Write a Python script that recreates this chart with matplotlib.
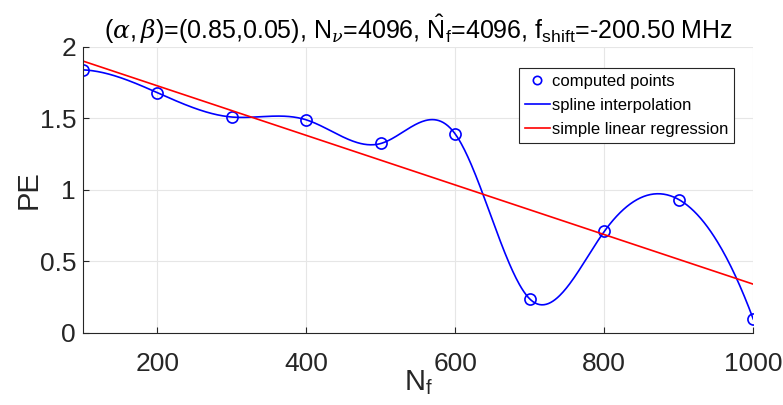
import numpy as np
import matplotlib
matplotlib.use('Agg')
import matplotlib.pyplot as plt

plt.rcParams['font.family'] = ['Liberation Sans', 'DejaVu Sans']
plt.rcParams['mathtext.fontset'] = 'custom'
plt.rcParams['mathtext.rm'] = 'Liberation Sans'
plt.rcParams['mathtext.sf'] = 'Liberation Sans'
plt.rcParams['mathtext.it'] = 'DejaVu Serif:italic'

# data
nf = np.array([100, 200, 300, 400, 500, 600, 700, 800, 900, 1000], dtype=float)
pe = np.array([1.84, 1.68, 1.51, 1.49, 1.325, 1.39, 0.237, 0.71, 0.933, 0.097])
xticks = [200, 400, 600, 800, 1000]
yticks = [0, 0.5, 1, 1.5, 2]
yticklabels = ['0', '0.5', '1', '1.5', '2']


def notaknot_spline(x, y, xs):
    # piecewise cubic a + b t + c t^2 + d t^3, not-a-knot ends (like MATLAB spline)
    n = len(x) - 1
    h = np.diff(x)
    A = np.zeros((4 * n, 4 * n))
    r = np.zeros(4 * n)
    row = 0
    for i in range(n):
        A[row, 4 * i] = 1; r[row] = y[i]; row += 1
        A[row, 4 * i:4 * i + 4] = [1, h[i], h[i] ** 2, h[i] ** 3]; r[row] = y[i + 1]; row += 1
    for i in range(n - 1):
        A[row, 4 * i:4 * i + 4] = [0, 1, 2 * h[i], 3 * h[i] ** 2]
        A[row, 4 * (i + 1) + 1] = -1; row += 1
        A[row, 4 * i:4 * i + 4] = [0, 0, 2, 6 * h[i]]
        A[row, 4 * (i + 1) + 2] = -2; row += 1
    A[row, 3] = 1; A[row, 7] = -1; row += 1
    A[row, 4 * (n - 2) + 3] = 1; A[row, 4 * (n - 1) + 3] = -1; row += 1
    c = np.linalg.solve(A, r).reshape(n, 4)
    idx = np.clip(np.searchsorted(x, xs, side='right') - 1, 0, n - 1)
    t = xs - x[idx]
    cc = c[idx]
    return cc[:, 0] + cc[:, 1] * t + cc[:, 2] * t ** 2 + cc[:, 3] * t ** 3


xs = np.linspace(nf[0], nf[-1], 600)
ys = notaknot_spline(nf, pe, xs)
slope, icpt = np.polyfit(nf, pe, 1)

fig = plt.figure(figsize=(7.83, 4.05), dpi=100)
ax = fig.add_axes([0.106, 0.178, 0.856, 0.706])

ax.plot(nf, pe, 'o', mfc='none', mec='#0000ff', mew=1.2, ms=8, label='computed points')
ax.plot(xs, ys, '-', color='#0000ff', lw=1.2, label='spline interpolation')
ax.plot(nf, slope * nf + icpt, '-', color='#ff0000', lw=1.2, label='simple linear regression')

ax.set_xlim(100, 1000)
ax.set_ylim(0, 2)
ax.set_xticks(xticks)
ax.set_yticks(yticks)
ax.set_yticklabels(yticklabels)
ax.grid(True, color='#e6e6e6', lw=0.8)
ax.set_axisbelow(True)
for s in ['top', 'right']:
    ax.spines[s].set_visible(False)
for s in ['left', 'bottom']:
    ax.spines[s].set_color('#262626')
ax.tick_params(direction='in', length=4, colors='#262626', labelsize=19)
ax.tick_params(axis='x', pad=14)
ax.tick_params(axis='y', pad=5)

ax.set_xlabel(r'N$_\mathrm{f}$', fontsize=21, color='#262626', labelpad=-6)
ax.set_ylabel('PE', fontsize=21, color='#262626', labelpad=-2)
ax.set_title(r'$(\alpha,\beta)$=(0.85,0.05), N$_{\nu}$=4096, $\hat{\mathrm{N}}_\mathrm{f}$=4096, '
             r'f$_\mathrm{shift}$=-200.50 MHz', fontsize=18, pad=6)

leg = ax.legend(loc='upper right', bbox_to_anchor=(0.9716, 0.9266), fontsize=12,
                frameon=True, fancybox=False, edgecolor='#262626', framealpha=1,
                handlelength=1.5, handletextpad=0.15, borderpad=0.35, labelspacing=0.55,
                borderaxespad=0, markerscale=0.75)
leg.get_frame().set_linewidth(0.8)

fig.savefig('out.png', dpi=100)
